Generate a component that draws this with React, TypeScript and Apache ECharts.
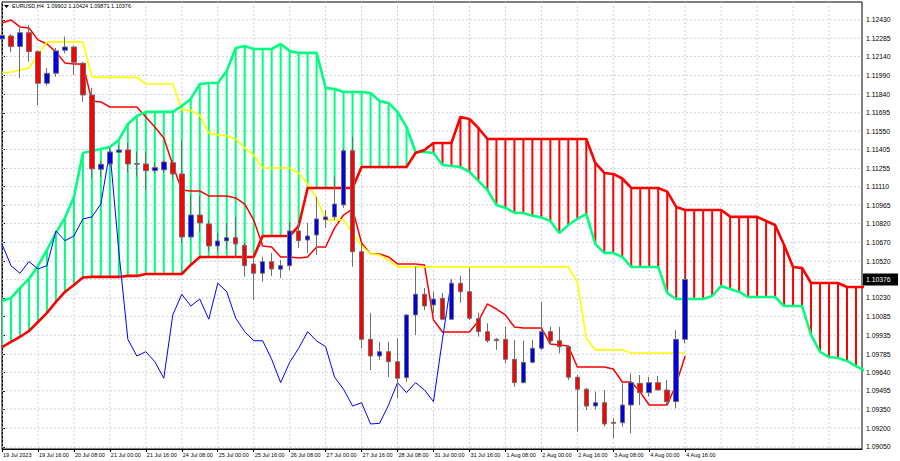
import React, { useEffect, useRef } from 'react';
import * as echarts from 'echarts';

// ---- data (EURUSD H4, Ichimoku) ----
const timeLabels = ['19 Jul 2023', '19 Jul 16:00', '20 Jul 08:00', '21 Jul 00:00', '21 Jul 16:00', '24 Jul 08:00', '25 Jul 00:00', '25 Jul 16:00', '26 Jul 08:00', '27 Jul 00:00', '27 Jul 16:00', '28 Jul 08:00', '31 Jul 00:00', '31 Jul 16:00', '1 Aug 08:00', '2 Aug 00:00', '2 Aug 16:00', '3 Aug 08:00', '4 Aug 00:00', '4 Aug 16:00'];
const labelBarIdx = [0, 4, 8, 12, 16, 20, 24, 28, 32, 36, 40, 44, 48, 52, 56, 60, 64, 68, 72, 76];
const gridBarIdx = [0, 4, 8, 12, 16, 20, 24, 28, 32, 36, 40, 44, 48, 52, 56, 60, 64, 68, 72, 76, 80, 84, 88, 92];

const opens = [1.12280, 1.12303, 1.12219, 1.12329, 1.12179, 1.11929, 1.12008, 1.12190, 1.12216, 1.12087, 1.11836, 1.11248, 1.11290, 1.11383, 1.11401, 1.11294, 1.11290, 1.11237, 1.11243, 1.11300, 1.11211, 1.10712, 1.10886, 1.10815, 1.10641, 1.10681, 1.10707, 1.10647, 1.10498, 1.10425, 1.10517, 1.10457, 1.10485, 1.10760, 1.10688, 1.10728, 1.10849, 1.10871, 1.10966, 1.11395, 1.10596, 1.09902, 1.09770, 1.09804, 1.09725, 1.09599, 1.10095, 1.10259, 1.10174, 1.10227, 1.10061, 1.10346, 1.10279, 1.10066, 1.09963, 1.09902, 1.09902, 1.09744, 1.09559, 1.09720, 1.09831, 1.09963, 1.09891, 1.09844, 1.09602, 1.09507, 1.09374, 1.09401, 1.09245, 1.09242, 1.09382, 1.09554, 1.09480, 1.09559, 1.09501, 1.09409, 1.09902];
const closes = [1.12306, 1.12219, 1.12329, 1.12179, 1.11929, 1.12008, 1.12185, 1.12216, 1.12095, 1.11836, 1.11251, 1.11288, 1.11385, 1.11401, 1.11290, 1.11288, 1.11237, 1.11261, 1.11306, 1.11211, 1.10712, 1.10886, 1.10823, 1.10641, 1.10681, 1.10707, 1.10657, 1.10485, 1.10425, 1.10517, 1.10459, 1.10485, 1.10760, 1.10683, 1.10720, 1.10855, 1.10871, 1.10973, 1.11395, 1.10596, 1.09902, 1.09770, 1.09804, 1.09725, 1.09594, 1.10095, 1.10259, 1.10166, 1.10221, 1.10061, 1.10346, 1.10279, 1.10069, 1.09963, 1.09891, 1.09891, 1.09744, 1.09559, 1.09720, 1.09831, 1.09963, 1.09889, 1.09844, 1.09602, 1.09507, 1.09374, 1.09401, 1.09232, 1.09237, 1.09382, 1.09559, 1.09480, 1.09559, 1.09501, 1.09409, 1.09902, 1.10376];
const lows = [1.12272, 1.12174, 1.11971, 1.12100, 1.11757, 1.11908, 1.11981, 1.12166, 1.11995, 1.11781, 1.11179, 1.11187, 1.11274, 1.11377, 1.11219, 1.11190, 1.11084, 1.11219, 1.11219, 1.11179, 1.10665, 1.10700, 1.10752, 1.10596, 1.10596, 1.10609, 1.10546, 1.10398, 1.10213, 1.10358, 1.10404, 1.10388, 1.10451, 1.10625, 1.10586, 1.10570, 1.10783, 1.10847, 1.10942, 1.10477, 1.09831, 1.09659, 1.09739, 1.09604, 1.09438, 1.09567, 1.09936, 1.10134, 1.10108, 1.10055, 1.10055, 1.10192, 1.10055, 1.09923, 1.09875, 1.09818, 1.09712, 1.09527, 1.09554, 1.09712, 1.09818, 1.09857, 1.09792, 1.09580, 1.09171, 1.09343, 1.09348, 1.09211, 1.09121, 1.09211, 1.09158, 1.09382, 1.09448, 1.09501, 1.09382, 1.09356, 1.09871];
const highs = [1.12319, 1.12317, 1.12367, 1.12390, 1.12190, 1.12050, 1.12208, 1.12298, 1.12227, 1.12098, 1.11892, 1.11314, 1.11417, 1.11440, 1.11456, 1.11387, 1.11385, 1.11298, 1.11322, 1.11322, 1.11480, 1.11045, 1.11037, 1.10847, 1.10744, 1.10823, 1.10873, 1.10665, 1.10554, 1.10556, 1.10586, 1.10530, 1.10831, 1.10831, 1.10823, 1.11029, 1.10926, 1.11190, 1.11409, 1.11506, 1.10665, 1.10111, 1.09883, 1.09883, 1.09913, 1.10100, 1.10477, 1.10308, 1.10279, 1.10269, 1.10358, 1.10404, 1.10467, 1.10113, 1.10029, 1.09913, 1.10002, 1.09897, 1.09891, 1.09897, 1.10200, 1.10002, 1.10002, 1.09857, 1.09620, 1.09517, 1.09488, 1.09501, 1.09279, 1.09554, 1.09633, 1.09620, 1.09606, 1.09612, 1.09580, 1.09976, 1.10424];

const tenkan = [1.12406, 1.12430, 1.12375, 1.12367, 1.12272, 1.12240, 1.12177, 1.12090, 1.12082, 1.12082, 1.11789, 1.11781, 1.11741, 1.11741, 1.11741, 1.11741, 1.11662, 1.11583, 1.11496, 1.11282, 1.11084, 1.11076, 1.11076, 1.11037, 1.11037, 1.11037, 1.11021, 1.10973, 1.10847, 1.10641, 1.10633, 1.10554, 1.10554, 1.10546, 1.10554, 1.10633, 1.10633, 1.10784, 1.10886, 1.10934, 1.10665, 1.10578, 1.10578, 1.10554, 1.10499, 1.10499, 1.10499, 1.10491, 1.10055, 1.09960, 1.09960, 1.09960, 1.09960, 1.10047, 1.10182, 1.10142, 1.10095, 1.10000, 1.09992, 1.09992, 1.09992, 1.09865, 1.09857, 1.09849, 1.09683, 1.09683, 1.09683, 1.09683, 1.09667, 1.09564, 1.09564, 1.09485, 1.09382, 1.09382, 1.09382, 1.09549, 1.09770];
const kijun = [1.12010, 1.12018, 1.12034, 1.12050, 1.12153, 1.12256, 1.12256, 1.12256, 1.12256, 1.12256, 1.11979, 1.11975, 1.11975, 1.11975, 1.11975, 1.11975, 1.11923, 1.11923, 1.11923, 1.11923, 1.11718, 1.11714, 1.11678, 1.11535, 1.11520, 1.11512, 1.11488, 1.11417, 1.11361, 1.11258, 1.11258, 1.11258, 1.11258, 1.11219, 1.11132, 1.11021, 1.10847, 1.10847, 1.10847, 1.10744, 1.10641, 1.10578, 1.10570, 1.10530, 1.10475, 1.10475, 1.10475, 1.10475, 1.10475, 1.10475, 1.10475, 1.10475, 1.10475, 1.10475, 1.10475, 1.10475, 1.10475, 1.10475, 1.10475, 1.10475, 1.10475, 1.10475, 1.10475, 1.10475, 1.10356, 1.09913, 1.09818, 1.09818, 1.09818, 1.09818, 1.09794, 1.09794, 1.09794, 1.09794, 1.09794, 1.09794, 1.09794];
const chikou = [1.10657, 1.10485, 1.10425, 1.10517, 1.10459, 1.10485, 1.10760, 1.10683, 1.10720, 1.10855, 1.10871, 1.10973, 1.11395, 1.10596, 1.09902, 1.09770, 1.09804, 1.09725, 1.09594, 1.10095, 1.10259, 1.10166, 1.10221, 1.10061, 1.10346, 1.10279, 1.10069, 1.09963, 1.09891, 1.09891, 1.09744, 1.09559, 1.09720, 1.09831, 1.09963, 1.09889, 1.09844, 1.09602, 1.09507, 1.09374, 1.09401, 1.09232, 1.09237, 1.09382, 1.09559, 1.09480, 1.09559, 1.09501, 1.09409, 1.09902, 1.10376];
const spanA = [1.10206, 1.10229, 1.10309, 1.10380, 1.10483, 1.10609, 1.10744, 1.10863, 1.11029, 1.11377, 1.11393, 1.11409, 1.11425, 1.11480, 1.11607, 1.11670, 1.11702, 1.11702, 1.11702, 1.11702, 1.11749, 1.11805, 1.11923, 1.11931, 1.11931, 1.12026, 1.12208, 1.12224, 1.12200, 1.12200, 1.12200, 1.12240, 1.12185, 1.12169, 1.12169, 1.12169, 1.11892, 1.11884, 1.11860, 1.11860, 1.11860, 1.11852, 1.11789, 1.11773, 1.11702, 1.11583, 1.11387, 1.11385, 1.11377, 1.11282, 1.11274, 1.11266, 1.11227, 1.11156, 1.11084, 1.10966, 1.10942, 1.10905, 1.10902, 1.10881, 1.10867, 1.10839, 1.10744, 1.10807, 1.10855, 1.10894, 1.10657, 1.10586, 1.10586, 1.10554, 1.10475, 1.10475, 1.10475, 1.10475, 1.10269, 1.10221, 1.10221, 1.10221, 1.10221, 1.10245, 1.10324, 1.10301, 1.10277, 1.10237, 1.10237, 1.10237, 1.10237, 1.10166, 1.10166, 1.10166, 1.09937, 1.09802, 1.09762, 1.09754, 1.09731, 1.09691, 1.09652];
const spanB = [1.09841, 1.09881, 1.09921, 1.09968, 1.10039, 1.10111, 1.10198, 1.10277, 1.10332, 1.10392, 1.10396, 1.10396, 1.10396, 1.10396, 1.10404, 1.10404, 1.10419, 1.10419, 1.10419, 1.10419, 1.10419, 1.10491, 1.10554, 1.10554, 1.10554, 1.10554, 1.10554, 1.10554, 1.10554, 1.10720, 1.10720, 1.10720, 1.10720, 1.10799, 1.11100, 1.11100, 1.11100, 1.11100, 1.11100, 1.11100, 1.11266, 1.11266, 1.11266, 1.11266, 1.11266, 1.11266, 1.11377, 1.11401, 1.11456, 1.11456, 1.11456, 1.11662, 1.11646, 1.11575, 1.11488, 1.11488, 1.11488, 1.11488, 1.11488, 1.11488, 1.11488, 1.11488, 1.11488, 1.11488, 1.11488, 1.11488, 1.11298, 1.11219, 1.11211, 1.11175, 1.11100, 1.11100, 1.11100, 1.11100, 1.11071, 1.10950, 1.10926, 1.10926, 1.10926, 1.10926, 1.10926, 1.10873, 1.10871, 1.10871, 1.10871, 1.10839, 1.10807, 1.10649, 1.10475, 1.10467, 1.10348, 1.10348, 1.10348, 1.10348, 1.10316, 1.10316, 1.10316];

const priceTicks = [1.12430, 1.12285, 1.12140, 1.11990, 1.11840, 1.11695, 1.11550, 1.11405, 1.11255, 1.11110, 1.10965, 1.10820, 1.10670, 1.10520, 1.10230, 1.10085, 1.09935, 1.09785, 1.09640, 1.09495, 1.09350, 1.09200, 1.09050];
const priceGrid = [1.12430, 1.12285, 1.12140, 1.11990, 1.11840, 1.11695, 1.11550, 1.11405, 1.11255, 1.11110, 1.10965, 1.10820, 1.10670, 1.10520, 1.10375, 1.10230, 1.10085, 1.09935, 1.09785, 1.09640, 1.09495, 1.09350, 1.09200, 1.09050];
const lastPrice = 1.10376;
const headerText = 'EURUSD,H4  1.09902 1.10424 1.09871 1.10376';

const Y_MIN = 1.09034;
const Y_MAX = 1.12572;
const X_MAX = 95.67;

const GREEN = '#00ff7f';
const RED = '#ff0000';
const FONT = 'Liberation Sans, Arial, sans-serif';

export default function App() {
  const ref = useRef<HTMLDivElement>(null);

  useEffect(() => {
    const chart = echarts.init(ref.current as HTMLDivElement, null, { renderer: 'svg' });
    const idx = (arr: number[]) => arr.map((v, i) => [i, v]);
    const candleData = opens.map((o, i) => [i, o, closes[i], lows[i], highs[i]]);
    const hatchData = spanA.map((a, i) => [i, a, spanB[i]]);

    chart.setOption({
      animation: false,
      backgroundColor: '#ffffff',
      grid: { left: 1, right: 38, top: 2, bottom: 12, show: true, borderColor: '#000', borderWidth: 1, backgroundColor: 'transparent' },
      xAxis: {
        type: 'value', min: 0, max: X_MAX,
        axisLine: { show: true, lineStyle: { color: '#000', width: 1 } },
        axisTick: { show: true, customValues: labelBarIdx, length: 3, lineStyle: { color: '#000' } },
        axisLabel: {
          show: true, customValues: labelBarIdx,
          formatter: (v: number) => timeLabels[Math.round(v / 4)] ?? '',
          align: 'left', color: '#000', fontSize: 5.5, fontFamily: FONT, margin: 3, padding: [0, 0, 0, 1],
        },
        splitLine: { show: false },
      },
      yAxis: {
        type: 'value', position: 'right', min: Y_MIN, max: Y_MAX, scale: true,
        axisLine: { show: true, lineStyle: { color: '#000', width: 1 } },
        axisTick: { show: true, customValues: priceTicks, length: 3, lineStyle: { color: '#000' } },
        axisLabel: {
          show: true, customValues: priceTicks,
          formatter: (v: number) => v.toFixed(5),
          color: '#000', fontSize: 6.8, fontFamily: FONT, margin: 4,
        },
        splitLine: { show: false },
      },
      series: [
        {
          type: 'custom', name: 'vgrid', z: 1, silent: true, clip: true,
          data: gridBarIdx.map((i) => [i, Y_MIN]),
          encode: { x: 0, y: 1 },
          renderItem: (params: any, api: any) => {
            const x = api.coord([api.value(0), Y_MIN])[0];
            const cs = params.coordSys;
            return { type: 'line', shape: { x1: x, y1: cs.y, x2: x, y2: cs.y + cs.height }, style: { stroke: '#cdd2e3', lineWidth: 1, lineDash: [2, 2] } };
          },
        },
        {
          type: 'custom', name: 'hgrid', z: 1, silent: true, clip: true,
          data: priceGrid.map((p) => [0, p]),
          encode: { x: 0, y: 1 },
          renderItem: (params: any, api: any) => {
            const y = api.coord([0, api.value(1)])[1];
            const cs = params.coordSys;
            return { type: 'line', shape: { x1: cs.x, y1: y, x2: cs.x + cs.width, y2: y }, style: { stroke: '#cdd2e3', lineWidth: 1, lineDash: [2, 2] } };
          },
        },
        {
          type: 'custom', name: 'kumo', z: 2, silent: true, clip: true,
          data: hatchData,
          encode: { x: 0, y: [1, 2] },
          renderItem: (_params: any, api: any) => {
            const n = api.value(0); const a = api.value(1); const b = api.value(2);
            const p1 = api.coord([n, a]); const p2 = api.coord([n, b]);
            return { type: 'line', shape: { x1: p1[0], y1: p1[1], x2: p2[0], y2: p2[1] }, style: { stroke: a >= b ? GREEN : RED, lineWidth: 2 } };
          },
        },
        { type: 'line', name: 'Tenkan', z: 3, data: idx(tenkan), showSymbol: false, symbol: 'none', lineStyle: { color: RED, width: 1.5 }, silent: true },
        { type: 'line', name: 'Kijun', z: 4, data: idx(kijun), showSymbol: false, symbol: 'none', lineStyle: { color: '#ffff00', width: 1.7 }, silent: true },
        { type: 'line', name: 'Senkou A', z: 5, data: idx(spanA), showSymbol: false, symbol: 'none', lineStyle: { color: GREEN, width: 2.6 }, silent: true },
        { type: 'line', name: 'Senkou B', z: 5, data: idx(spanB), showSymbol: false, symbol: 'none', lineStyle: { color: RED, width: 2.6 }, silent: true },
        { type: 'line', name: 'Chikou', z: 6, data: idx(chikou), showSymbol: false, symbol: 'none', lineStyle: { color: '#0000ff', width: 1 }, silent: true },
        {
          type: 'candlestick', name: 'EURUSD', z: 10, data: candleData,
          encode: { x: 0, y: [1, 2, 3, 4] },
          barWidth: 5,
          itemStyle: { color: '#0000e6', color0: RED, borderColor: '#6e6e6e', borderColor0: '#6e6e6e', borderWidth: 1 },
          silent: true,
        },
      ],
    });

    const py = chart.convertToPixel({ yAxisIndex: 0 }, lastPrice) as number;
    chart.setOption({
      graphic: [
        { type: 'polygon', shape: { points: [[4, 5], [9, 5], [6.5, 8]] }, style: { fill: '#000' }, z: 100 },
        { type: 'text', x: 12, y: 3, style: { text: headerText, fill: '#000', font: `5.5px ${FONT}` }, z: 100 },
        { type: 'rect', shape: { x: 863, y: py - 6, width: 35, height: 12 }, style: { fill: '#000' }, z: 100 },
        { type: 'text', x: 866, y: py, style: { text: lastPrice.toFixed(5), fill: '#fff', font: `6.8px ${FONT}`, verticalAlign: 'middle' }, z: 101 },
      ],
    });

    return () => chart.dispose();
  }, []);

  return <div ref={ref} style={{ position: 'fixed', left: 0, top: 0, width: 900, height: 461, background: '#fff' }} />;
}
